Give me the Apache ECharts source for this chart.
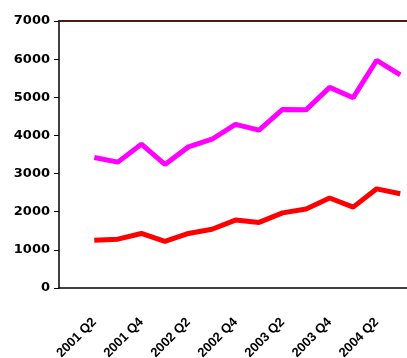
<!DOCTYPE html>
<html>
<head>
<meta charset="utf-8">
<script src="https://cdn.jsdelivr.net/npm/echarts@6/dist/echarts.min.js"></script>
<style>
  html, body { margin: 0; padding: 0; background: #fff; }
  #chart { width: 407px; height: 358px; }
</style>
</head>
<body>
<div id="chart"></div>
<script>
const quarters = ['2001 Q1', '2001 Q2', '2001 Q3', '2001 Q4', '2002 Q1', '2002 Q2', '2002 Q3', '2002 Q4',
    '2003 Q1', '2003 Q2', '2003 Q3', '2003 Q4', '2004 Q1', '2004 Q2', '2004 Q3'];
const upperValues = [null, 3420, 3300, 3770, 3240, 3700, 3900, 4290, 4140, 4680, 4670, 5260, 4990, 5970, 5590];
const lowerValues = [null, 1250, 1280, 1430, 1220, 1430, 1540, 1780, 1720, 1970, 2070, 2360, 2120, 2600, 2470];
const yTicks = { min: 0, max: 7000, interval: 1000 };

let chart = echarts.init(document.getElementById('chart'));

let option = {
    animation: false,
    grid: { left: 59, right: -5, top: 21, bottom: 70, containLabel: false, outerBoundsMode: 'none' },
    xAxis: [
        {
            type: 'category',
            data: quarters,
            boundaryGap: true,
            axisLine: { lineStyle: { color: '#000', width: 1.5 } },
            axisTick: { interval: 0, length: 5, lineStyle: { color: '#000' } },
            axisLabel: {
                interval: (i) => i % 2 === 1,
                rotate: 45,
                margin: 32,
                color: '#000',
                fontFamily: 'Liberation Sans',
                fontWeight: 'bold',
                fontSize: 13
            }
        },
        {
            type: 'category',
            position: 'top',
            data: quarters,
            axisLine: { lineStyle: { color: '#4d1a1a', width: 2 } },
            axisTick: { show: false },
            axisLabel: { show: false }
        }
    ],
    yAxis: {
        type: 'value',
        min: yTicks.min,
        max: yTicks.max,
        interval: yTicks.interval,
        axisLine: { show: true, lineStyle: { color: '#000', width: 1.5 } },
        axisTick: { show: true, length: 5, lineStyle: { color: '#000' } },
        splitLine: { show: false },
        axisLabel: {
            margin: 9,
            color: '#000',
            formatter: (v) => String(v),
            fontFamily: 'DejaVu Sans',
            fontWeight: 'bold',
            fontSize: 13
        }
    },
    series: [
        {
            type: 'line',
            data: upperValues,
            symbol: 'none',
            lineStyle: { color: '#ff00ff', width: 5 },
            itemStyle: { color: '#ff00ff' }
        },
        {
            type: 'line',
            data: lowerValues,
            symbol: 'none',
            lineStyle: { color: '#ff0000', width: 5 },
            itemStyle: { color: '#ff0000' }
        }
    ]
};

option && chart.setOption(option);
</script>
</body>
</html>
